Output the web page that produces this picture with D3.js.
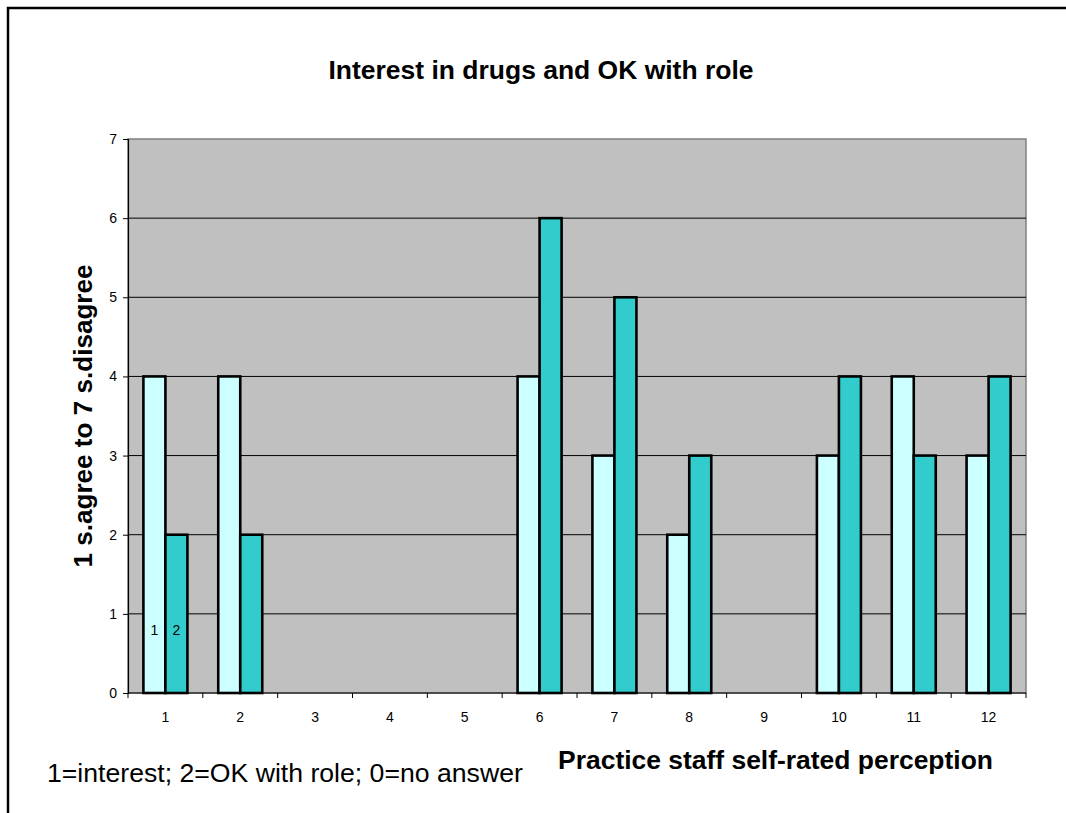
<!DOCTYPE html>
<html>
<head>
<meta charset="utf-8">
<script src="https://cdn.jsdelivr.net/npm/d3@7"></script>
<style>
  body { margin: 0; background: #fff; }
  svg { display: block; font-family: Arial, "Liberation Sans", sans-serif; }
</style>
</head>
<body>
<svg id="chart" width="1066" height="813"></svg>
<script>
// Practice numbers along the x axis
const categories = ["1","2","3","4","5","6","7","8","9","10","11","12"];
// Series 1: interest in drugs; series 2: OK with role (0 = no answer)
const interest = [4, 4, 0, 0, 0, 4, 3, 2, 0, 3, 4, 3];
const okWithRole = [2, 2, 0, 0, 0, 6, 5, 3, 0, 4, 3, 4];
const seriesNames = ["1", "2"];
const yTicks = [0, 1, 2, 3, 4, 5, 6, 7];

const FONT = "Arial, 'Liberation Sans', sans-serif";
const TICK_FS = 14;
const svg = d3.select("#chart");
const plot = { left: 128, top: 139, right: 1026, bottom: 693 };

// Outer chart frame (left and top edges visible)
svg.append("path")
  .attr("d", "M8,813 V8 H1066")
  .attr("fill", "none").attr("stroke", "#000").attr("stroke-width", 2.5);

const x = d3.scaleBand().domain(categories).range([plot.left, plot.right]);
const y = d3.scaleLinear().domain([0, 7]).range([plot.bottom, plot.top]);
const inner = d3.scaleBand().domain(seriesNames).range([0, x.bandwidth()]).paddingInner(0).paddingOuter(0.7);

// Plot area
svg.append("rect")
  .attr("x", plot.left).attr("y", plot.top)
  .attr("width", plot.right - plot.left).attr("height", plot.bottom - plot.top)
  .attr("fill", "#c0c0c0").attr("stroke", "#808080").attr("stroke-width", 1.5);

// Horizontal gridlines
svg.append("g").selectAll("line").data(yTicks.filter(d => d > 0 && d < 7)).join("line")
  .attr("x1", plot.left).attr("x2", plot.right)
  .attr("y1", d => y(d)).attr("y2", d => y(d))
  .attr("stroke", "#000").attr("stroke-width", 1);

// Bars
const rows = categories.map((c, i) => ({ c, v: [interest[i], okWithRole[i]] }));
const colors = ["#ccffff", "#33cccc"];
const groups = svg.append("g").selectAll("g").data(rows).join("g")
  .attr("transform", d => `translate(${x(d.c)},0)`);
groups.selectAll("rect").data(d => d.v.map((v, k) => ({ v, k })).filter(e => e.v > 0)).join("rect")
  .attr("x", d => inner(seriesNames[d.k]))
  .attr("y", d => y(d.v))
  .attr("width", inner.bandwidth())
  .attr("height", d => y(0) - y(d.v))
  .attr("fill", d => colors[d.k])
  .attr("stroke", "#000").attr("stroke-width", 2.6);

// Series labels inside the first group
svg.append("g").selectAll("text").data(seriesNames).join("text")
  .attr("x", d => x(categories[0]) + inner(d) + inner.bandwidth() / 2)
  .attr("y", y(0.8) + 5)
  .attr("text-anchor", "middle")
  .attr("font-size", TICK_FS)
  .text(d => d);

// Y axis
const yAxis = svg.append("g").attr("transform", `translate(${plot.left},0)`)
  .call(d3.axisLeft(y).tickValues(yTicks).tickSize(5).tickPadding(6).tickFormat(d3.format("d")));
yAxis.select(".domain").attr("stroke", "#000").attr("stroke-width", 1.2);
yAxis.selectAll("text").attr("font-size", TICK_FS).attr("font-family", FONT).attr("fill", "#000");

// X axis with ticks on category boundaries
const xAxisG = svg.append("g").attr("transform", `translate(0,${plot.bottom})`);
xAxisG.append("line").attr("x1", plot.left).attr("x2", plot.right)
  .attr("y1", 0).attr("y2", 0).attr("stroke", "#000").attr("stroke-width", 1.2);
const bounds = categories.map(c => x(c)).concat([plot.right]);
xAxisG.selectAll("line.tk").data(bounds).join("line").attr("class", "tk")
  .attr("x1", d => d).attr("x2", d => d).attr("y1", 0).attr("y2", 5)
  .attr("stroke", "#000").attr("stroke-width", 1);
xAxisG.selectAll("text").data(categories).join("text")
  .attr("x", d => x(d) + x.bandwidth() / 2)
  .attr("y", 29)
  .attr("text-anchor", "middle")
  .attr("font-size", TICK_FS)
  .text(d => d);

// Size a text element so its rendered length equals the given width
function fit(sel, width) {
  const base = +sel.attr("font-size");
  const len = sel.node().getComputedTextLength();
  sel.attr("font-size", (base * width / len).toFixed(2));
  return sel;
}

// Titles
fit(svg.append("text").attr("x", 541).attr("y", 79).attr("text-anchor", "middle")
  .attr("font-size", 20).attr("font-weight", "bold").text("Interest in drugs and OK with role"), 425);
fit(svg.append("text").attr("transform", "translate(92,416) rotate(-90)").attr("text-anchor", "middle")
  .attr("font-size", 20).attr("font-weight", "bold").text("1 s.agree to 7 s.disagree"), 303);
fit(svg.append("text").attr("x", 775.5).attr("y", 769).attr("text-anchor", "middle")
  .attr("font-size", 20).attr("font-weight", "bold").text("Practice staff self-rated perception"), 435);
fit(svg.append("text").attr("x", 47).attr("y", 782)
  .attr("font-size", 20).text("1=interest; 2=OK with role; 0=no answer"), 476);
</script>
</body>
</html>
